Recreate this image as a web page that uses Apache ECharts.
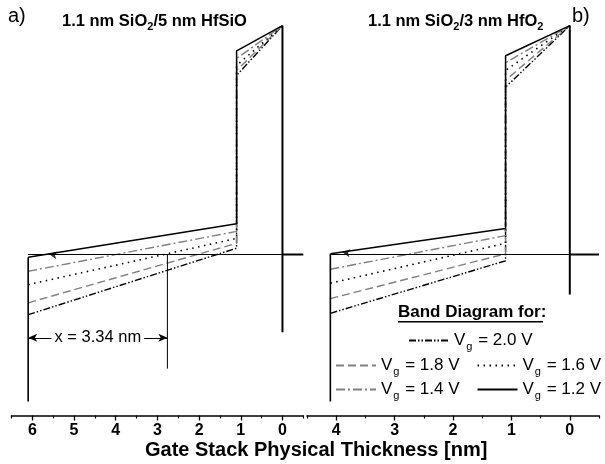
<!DOCTYPE html>
<html><head><meta charset="utf-8">
<script src="https://cdn.jsdelivr.net/npm/echarts@6/dist/echarts.min.js"></script>
<style>html,body{margin:0;padding:0;background:#fff}#c{width:605px;height:464px}</style>
</head><body><div id="c"></div>
<script>
// ---------- data ----------
const names = ['Vg = 2.0 V', 'Vg = 1.8 V', 'Vg = 1.6 V', 'Vg = 1.4 V', 'Vg = 1.2 V'];
// panel a) 1.1 nm SiO2 / 5 nm HfSiO : positions (nm) of band corners
const xA = [6.1, 1.1, 1.1, 0];
const a20 = [-0.86, 0.09, 2.56, 3.27];
const a18 = [-0.69, 0.16, 2.63, 3.27];
const a16 = [-0.43, 0.23, 2.70, 3.27];
const a14 = [-0.24, 0.33, 2.80, 3.27];
const a12 = [-0.04, 0.44, 2.91, 3.27];
// panel b) 1.1 nm SiO2 / 3 nm HfO2
const xB = [4.1, 1.1, 1.1, 0];
const b20 = [-0.84, -0.09, 2.39, 3.27];
const b18 = [-0.63, 0.01, 2.49, 3.27];
const b16 = [-0.41, 0.16, 2.63, 3.27];
const b14 = [-0.21, 0.27, 2.74, 3.27];
const b12 = [0.01, 0.37, 2.84, 3.27];
// reference (Si) level and frame lines
const refLevel = 0;
const aGateBottom = -2.10, aSubBottom = -1.11;
const bGateBottom = -2.10, bSubBottom = -0.57;
// x = 3.34 nm annotation
const markX = 6.1 - 3.34, markBottom = -1.63, markArrowY = -1.19;
// arrowhead positions on the 1.2 V curve
const arrowA = 5.6, arrowB = 3.9;
// axis ticks
const ticksA = [0, 1, 2, 3, 4, 5, 6];
const minorA = [-0.5, 0.5, 1.5, 2.5, 3.5, 4.5, 5.5, 6.5];
const ticksB = [0, 1, 2, 3, 4];
const minorB = [-0.5, 0.5, 1.5, 2.5, 3.5, 4.5];

// ---------- styles ----------
const FONT = 'Liberation Sans, Arial, sans-serif';
const styles = {
  'Vg = 2.0 V': {color: '#000', type: [7, 2, 1.5, 2, 1.5, 2], width: 1.4},
  'Vg = 1.8 V': {color: '#808080', type: [8, 4], width: 1.4},
  'Vg = 1.6 V': {color: '#000', type: [1.5, 4.5], width: 1.6},
  'Vg = 1.4 V': {color: '#808080', type: [9, 3, 2, 3], width: 1.4},
  'Vg = 1.2 V': {color: '#000', type: 'solid', width: 1.5}
};
const zip = (xs, ys) => xs.map((x, i) => [x, ys[i]]);
const interp = (xs, ys, x) => {
  for (let i = 0; i < xs.length - 1; i++) {
    const x0 = xs[i], x1 = xs[i + 1];
    if ((x <= x0 && x >= x1) || (x >= x0 && x <= x1)) {
      if (x0 === x1) return ys[i];
      return ys[i] + (ys[i + 1] - ys[i]) * (x - x0) / (x1 - x0);
    }
  }
  return ys[0];
};

const series = [];
function band(name, xs, ys, gi, z) {
  series.push({
    name, type: 'line', xAxisIndex: gi * 2, yAxisIndex: gi, data: zip(xs, ys),
    symbol: 'none', lineStyle: styles[name], itemStyle: {color: styles[name].color},
    z: z, silent: true
  });
}
function seg(pts, gi, width, extra) {
  const s = {
    type: 'line', xAxisIndex: gi * 2, yAxisIndex: gi, data: pts, symbol: 'none',
    lineStyle: {color: '#000', width: width, type: 'solid'}, z: 5, silent: true
  };
  series.push(Object.assign(s, extra || {}));
}
const aSets = [a20, a18, a16, a14, a12], bSets = [b20, b18, b16, b14, b12];
names.forEach((n, i) => { band(n, xA, aSets[i], 0, 2 + i); band(n, xB, bSets[i], 1, 2 + i); });

// panel a frame
seg([[xA[0], refLevel], [0, refLevel]], 0, 1.1);
seg([[0, refLevel], [-0.5, refLevel]], 0, 2.2);
seg([[xA[0], a12[0]], [xA[0], aGateBottom]], 0, 1.6);
seg([[0, a12[3]], [0, aSubBottom]], 0, 2);
seg([[markX, refLevel], [markX, markBottom]], 0, 1, {
  markLine: {
    silent: true, symbol: ['arrow', 'arrow'], symbolSize: [6, 9], animation: false,
    lineStyle: {color: '#000', type: 'solid', width: 1},
    label: {show: false},
    data: [[{coord: [xA[0], markArrowY]}, {coord: [markX, markArrowY]}]]
  }
});
// annotation text centred on the arrow
series.push({type: 'scatter', xAxisIndex: 0, yAxisIndex: 0, data: [[(xA[0] + markX) / 2, markArrowY]],
  symbolSize: 1, z: 12, silent: true, itemStyle: {color: '#fff', opacity: 1},
  label: {show: true, position: 'inside', formatter: 'x = 3.34 nm', color: '#000', fontSize: 16.5,
    fontFamily: FONT, backgroundColor: '#fff', padding: [0, 3], textBorderWidth: 0,
    textBorderColor: 'transparent', opacity: 1}});
// panel b frame
seg([[xB[0], refLevel], [0, refLevel]], 1, 1.1);
seg([[0, refLevel], [-0.5, refLevel]], 1, 2.2);
seg([[xB[0], b12[0]], [xB[0], bGateBottom]], 1, 1.6);
seg([[0, b12[3]], [0, bSubBottom]], 1, 2);
// arrowheads on 1.2 V line
series.push({type: 'scatter', xAxisIndex: 0, yAxisIndex: 0, data: [[arrowA, interp(xA, a12, arrowA)]],
  symbol: 'arrow', symbolSize: [6, 8], symbolRotate: 80, itemStyle: {color: '#000'}, z: 10, silent: true});
series.push({type: 'scatter', xAxisIndex: 2, yAxisIndex: 1, data: [[arrowB, interp(xB, b12, arrowB)]],
  symbol: 'arrow', symbolSize: [6, 8], symbolRotate: 82, itemStyle: {color: '#000'}, z: 10, silent: true});

function xAxes(gi, min, max, ticks, minor) {
  return [{
    gridIndex: gi, type: 'value', inverse: true, min, max, interval: 0.5, position: 'bottom',
    axisLine: {show: true, onZero: false, lineStyle: {color: '#000', width: 1.5}},
    axisTick: {show: true, customValues: ticks, length: 5, lineStyle: {color: '#000', width: 1.3}},
    axisLabel: {show: true, customValues: ticks, margin: 7, color: '#000', fontSize: 16,
      fontWeight: 'bold', fontFamily: FONT},
    splitLine: {show: false}
  }, {
    gridIndex: gi, type: 'value', inverse: true, min, max, interval: 0.5, position: 'bottom',
    axisLine: {show: false, onZero: false},
    axisTick: {show: true, customValues: minor, length: 3, lineStyle: {color: '#000', width: 1.2}},
    axisLabel: {show: false}, splitLine: {show: false}
  }];
}
const yAx = gi => ({gridIndex: gi, type: 'value', min: -2.3, max: 3.3, show: false,
  axisLine: {show: false}, splitLine: {show: false}});

const rich = {
  a: {fontSize: 17, color: '#000', fontFamily: FONT},
  s: {fontSize: 11, color: '#000', fontFamily: FONT, padding: [12, 1, 0, 1]}
};
const legendFmt = n => '{a|V}{s|g}{a| = ' + n.slice(5) + '}';
const legendBase = {
  orient: 'horizontal', itemWidth: 40, itemHeight: 10, itemGap: 17, selectedMode: false,
  formatter: legendFmt, textStyle: {rich}, padding: 0,
  itemStyle: {opacity: 0}
};
const titleRich = {
  t: {fontSize: 16.5, fontWeight: 'bold', color: '#000', fontFamily: FONT},
  s: {fontSize: 11, fontWeight: 'bold', color: '#000', fontFamily: FONT, padding: [10, 0, 0, 0]}
};

const option = {
  animation: false,
  backgroundColor: '#fff',
  grid: [
    {left: 11.5, right: 605 - 303.3, top: 23.5, bottom: 48.5, containLabel: false},
    {left: 307, right: 6, top: 23.5, bottom: 48.5, containLabel: false}
  ],
  xAxis: [...xAxes(0, -0.5, 6.5, ticksA, minorA), ...xAxes(1, -0.5, 4.5, ticksB, minorB)],
  yAxis: [yAx(0), yAx(1)],
  title: [
    {text: 'a)', left: 3, top: 1, textStyle: {fontSize: 20, fontWeight: 'normal', color: '#000', fontFamily: FONT}},
    {text: 'b)', left: 567, top: 1, textStyle: {fontSize: 20, fontWeight: 'normal', color: '#000', fontFamily: FONT}},
    {text: '{t|1.1 nm SiO}{s|2}{t|/5 nm HfSiO}', left: 57, top: 6, textStyle: {rich: titleRich}},
    {text: '{t|1.1 nm SiO}{s|2}{t|/3 nm HfO}{s|2}', left: 363, top: 6, textStyle: {rich: titleRich}}
  ],
  legend: [
    Object.assign({}, legendBase, {data: ['Vg = 2.0 V'], left: 408, top: 332}),
    Object.assign({}, legendBase, {data: ['Vg = 1.8 V', 'Vg = 1.6 V'], left: 335, top: 357}),
    Object.assign({}, legendBase, {data: ['Vg = 1.4 V', 'Vg = 1.2 V'], left: 335, top: 381})
  ],
  graphic: [
    {type: 'text', left: 398, top: 304, style: {text: 'Band Diagram for:', fontSize: 17, fontWeight: 'bold',
      fill: '#000', fontFamily: FONT}},
    {type: 'rect', left: 398, top: 321, shape: {width: 145, height: 1.5}, style: {fill: '#000'}},
    {type: 'text', left: 145, top: 440, style: {text: 'Gate Stack Physical Thickness [nm]',
      fontSize: 20, fontWeight: 'bold', fill: '#000', fontFamily: FONT}}
  ],
  series
};
const chart = echarts.init(document.getElementById('c'), null, {renderer: 'canvas'});
chart.setOption(option);
</script></body></html>
